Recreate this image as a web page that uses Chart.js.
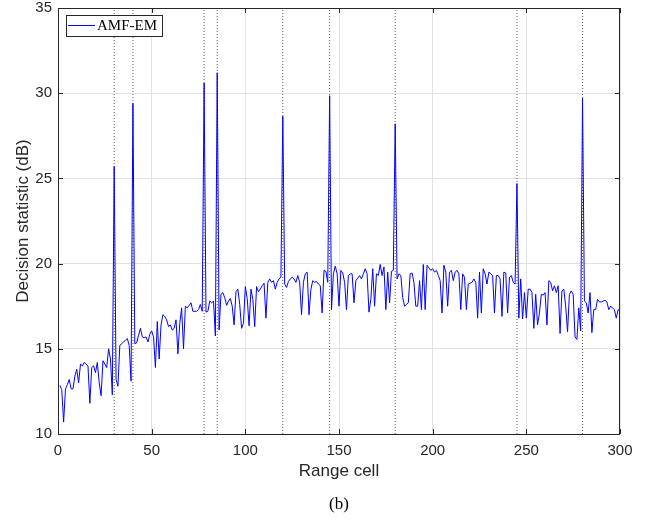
<!DOCTYPE html>
<html><head><meta charset="utf-8">
<script src="https://cdn.jsdelivr.net/npm/chart.js@4.4.1/dist/chart.umd.min.js"></script>
<style>html,body{margin:0;padding:0;background:#fff}#wrap{width:650px;height:520px}</style>
</head><body><div id="wrap"><canvas id="c" width="650" height="520"></canvas></div>
<script>
// Decision statistic (dB) for range cells 1..300
const decisionStatistic = [
12.85,12.6,10.7,12.65,12.9,13.2,12.65,12.65,13.4,13.8,
13.0,14.1,14.0,14.2,14.1,14.0,11.8,13.9,14.0,13.6,
14.2,13.0,12.25,14.3,14.1,13.9,15.0,14.4,12.3,25.7,
13.2,12.8,15.2,15.3,15.4,15.5,15.6,15.2,13.1,29.4,
15.3,15.35,15.8,16.2,15.7,15.65,15.7,15.4,15.85,16.05,
15.7,13.9,16.6,14.4,16.4,17.0,16.9,16.7,16.3,16.4,
16.1,16.2,16.7,14.7,16.5,17.4,15.0,17.5,17.4,17.55,
17.7,17.2,17.2,17.2,17.3,17.6,17.2,30.6,17.15,17.2,
17.8,17.7,17.8,15.75,31.2,16.1,18.2,18.3,18.0,17.55,
17.8,17.95,17.5,16.4,18.35,18.5,17.6,16.2,16.5,18.65,
17.95,16.35,18.5,17.9,16.3,18.65,18.35,18.5,18.7,18.85,
16.8,18.9,19.1,18.9,19.0,18.5,18.9,19.1,19.2,28.65,
18.8,18.6,18.95,19.1,19.2,19.1,18.9,19.3,18.9,17.0,
18.9,19.4,19.5,17.0,18.5,19.0,18.9,18.95,18.8,18.7,
17.1,19.6,19.55,18.9,29.85,17.3,19.4,19.85,19.4,17.5,
19.6,19.45,18.9,17.3,19.3,19.4,19.4,17.7,19.0,19.15,
19.3,19.1,19.4,19.7,19.4,17.15,17.9,19.7,17.5,19.4,
19.3,19.95,19.3,19.8,17.3,19.5,17.7,19.55,19.6,28.2,
19.1,19.4,19.3,18.0,17.5,17.6,17.7,19.4,19.45,18.9,
17.5,17.5,19.0,17.3,19.95,17.3,19.9,19.75,19.6,19.7,
19.5,19.6,19.3,19.0,17.1,19.9,19.5,17.5,19.5,19.6,
19.0,19.5,19.6,19.4,17.3,19.4,19.2,17.3,18.8,18.85,
18.9,19.1,18.9,16.8,19.5,17.1,19.7,19.4,18.8,19.5,
19.4,19.3,17.1,19.3,19.3,19.1,16.9,19.5,19.45,17.1,
19.2,19.3,18.9,18.8,24.7,16.8,19.1,16.75,18.3,16.8,
18.5,18.5,18.3,16.2,18.2,16.4,17.1,18.2,18.15,18.3,
16.4,19.0,18.9,18.4,18.7,18.3,18.7,15.9,18.4,18.5,
17.5,16.0,18.2,18.4,18.2,15.7,15.55,17.4,16.05,29.7,
17.8,17.7,17.1,18.3,15.95,17.3,17.3,17.9,17.75,17.75,
17.8,17.85,17.75,17.3,17.5,17.4,17.3,16.8,17.3,17.2
];
const rangeCells = decisionStatistic.map((v, i) => i + 1);
const targetCells = [30, 40, 78, 85, 120, 145, 180, 245, 280];
const xTicks = [0, 50, 100, 150, 200, 250, 300];
const yTicks = [10, 15, 20, 25, 30, 35];
const seriesName = 'AMF-EM';

const ink = '#262626';
const datasets = [{
  label: seriesName,
  data: rangeCells.map((x, i) => ({x, y: decisionStatistic[i]})),
  borderColor: '#0000ff', borderWidth: 1, pointRadius: 0, tension: 0, order: 0
}];
targetCells.forEach(t => datasets.push({
  label: 'target ' + t,
  data: [{x: t, y: yTicks[0]}, {x: t, y: yTicks[yTicks.length - 1]}],
  borderColor: '#5a5a5a', borderWidth: 1, borderDash: [1, 2], pointRadius: 0, order: 1
}));

const frame = {
  id: 'frame',
  afterDraw(chart) {
    const {ctx, chartArea: a, scales: {x, y}} = chart;
    ctx.save();
    ctx.strokeStyle = ink; ctx.lineWidth = 1;
    ctx.strokeRect(Math.round(a.left) + 0.5, Math.round(a.top) + 0.5, Math.round(a.right - a.left) - 1, Math.round(a.bottom - a.top));
    ctx.beginPath();
    xTicks.forEach(v => {
      const px = Math.round(x.getPixelForValue(v)) + 0.5;
      ctx.moveTo(px, a.bottom); ctx.lineTo(px, a.bottom - 5);
      ctx.moveTo(px, a.top); ctx.lineTo(px, a.top + 5);
    });
    yTicks.forEach(v => {
      const py = Math.round(y.getPixelForValue(v)) + 0.5;
      ctx.moveTo(a.left, py); ctx.lineTo(a.left + 5, py);
      ctx.moveTo(a.right, py); ctx.lineTo(a.right - 5, py);
    });
    ctx.stroke();
    // legend
    const lx = Math.round(a.left) + 8, ly = Math.round(a.top) + 7, lw = 96, lh = 21;
    ctx.fillStyle = '#fff'; ctx.fillRect(lx, ly, lw, lh);
    ctx.strokeStyle = ink; ctx.strokeRect(lx + 0.5, ly + 0.5, lw, lh);
    ctx.strokeStyle = '#0000ff'; ctx.beginPath();
    ctx.moveTo(lx + 2, ly + 10.5); ctx.lineTo(lx + 29, ly + 10.5); ctx.stroke();
    ctx.fillStyle = '#000'; ctx.font = '15px "Liberation Serif"';
    ctx.textBaseline = 'middle'; ctx.textAlign = 'left';
    ctx.fillText(seriesName, lx + 31, ly + 11.5);
    // caption
    ctx.font = '17px "Liberation Serif"'; ctx.textAlign = 'center';
    ctx.fillText('(b)', (a.left + a.right) / 2, 505);
    ctx.restore();
  }
};

new Chart(document.getElementById('c'), {
  type: 'line',
  data: {datasets},
  options: {
    responsive: false, animation: false,
    layout: {padding: {top: 8, right: 30, bottom: 34, left: 0}},
    plugins: {legend: {display: false}, tooltip: {enabled: false}},
    scales: {
      x: {
        type: 'linear', min: 0, max: 300,
        afterBuildTicks: s => { s.ticks = xTicks.map(v => ({value: v})); },
        afterFit: s => { s.height = 52; s.paddingRight = 0; s.paddingLeft = 0; },
        grid: {color: '#e2e2e2', drawTicks: false},
        border: {display: false},
        ticks: {color: ink, font: {family: 'Liberation Sans', size: 15}, padding: 8, maxRotation: 0},
        title: {display: true, text: 'Range cell', color: ink, font: {family: 'Liberation Sans', size: 17}, padding: {top: 0, bottom: 4}}
      },
      y: {
        min: 10, max: 35,
        afterBuildTicks: s => { s.ticks = yTicks.map(v => ({value: v})); },
        afterFit: s => { s.width = 58; s.paddingTop = 0; s.paddingBottom = 0; },
        grid: {color: '#e2e2e2', drawTicks: false},
        border: {display: false},
        ticks: {color: ink, font: {family: 'Liberation Sans', size: 15}, padding: 6},
        title: {display: true, text: 'Decision statistic (dB)', color: ink, font: {family: 'Liberation Sans', size: 17}, padding: {top: 13, bottom: 0}}
      }
    }
  },
  plugins: [frame]
});
</script></body></html>
